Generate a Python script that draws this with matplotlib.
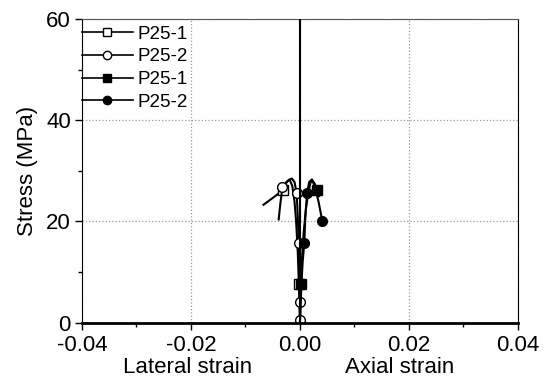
import numpy as np
import matplotlib.pyplot as plt
from matplotlib.lines import Line2D

plt.rcParams['font.family'] = ['Liberation Sans', 'DejaVu Sans']

labels = ["P25-1", "P25-2", "P25-1", "P25-2"]

# lateral strain (negative) vs stress
lat1_strain = [0, -0.0001, -0.0002, -0.0004, -0.0007, -0.0010, -0.0014, -0.0019, -0.0025, -0.0031, -0.0048, -0.0067]
lat1_stress = [0, 4, 7.7, 14, 20, 24, 27, 28.3, 27.8, 26.2, 24.8, 23.3]
lat1_marks = [2, 9]

lat2_strain = [0, 0, -0.0001, -0.0002, -0.0004, -0.0006, -0.0010, -0.0015, -0.0022, -0.0032, -0.0036, -0.0039]
lat2_stress = [0.5, 4, 10, 15.8, 21, 25.6, 27.8, 28.5, 28, 26.8, 23.5, 20.4]
lat2_marks = [0, 1, 3, 5, 9]

# axial strain vs stress
ax1_strain = [0, 0.0001, 0.0002, 0.0004, 0.0007, 0.0011, 0.0015, 0.0019, 0.0022, 0.0027, 0.0032, 0.0035]
ax1_stress = [0, 4, 7.7, 13, 18, 22.5, 25.5, 27.5, 28.2, 27.5, 26.2, 25]
ax1_marks = [2, 10]

ax2_strain = [0, 0.0001, 0.0003, 0.0005, 0.0008, 0.0010, 0.0013, 0.0017, 0.0022, 0.0027, 0.0034, 0.0041]
ax2_stress = [0, 3, 8, 12, 15.8, 21, 25.6, 27.8, 28.3, 27, 24, 20.1]
ax2_marks = [4, 6, 11]

fig = plt.figure(figsize=(5.44, 3.83), dpi=100)
ax = fig.add_axes([0.1507, 0.1574, 0.8013, 0.7930])

ms = 7
series = [
    (lat1_strain, lat1_stress, lat1_marks, 's', 'white'),
    (lat2_strain, lat2_stress, lat2_marks, 'o', 'white'),
    (ax1_strain, ax1_stress, ax1_marks, 's', 'k'),
    (ax2_strain, ax2_stress, ax2_marks, 'o', 'k'),
]
handles = []
for (xs, ys, marks, mk, fc), lab in zip(series, labels):
    ax.plot(xs, ys, '-' + mk, color='k', lw=1.5, ms=ms, mfc=fc, mec='k', markevery=marks)
    handles.append(Line2D([], [], color='k', lw=1.2, marker=mk, ms=6, mfc=fc, mec='k', label=lab))

ax.axvline(0, color='k', lw=1.5, zorder=3)

ax.set_xlim(-0.04, 0.04)
ax.set_ylim(0, 60)
ax.set_xticks([-0.04, -0.02, 0.0, 0.02, 0.04])
ax.set_xticklabels(["-0.04", "-0.02", "0.00", "0.02", "0.04"])
ax.set_xticks([-0.03, -0.01, 0.01, 0.03], minor=True)
ax.set_yticks([0, 20, 40, 60])
ax.set_yticks([10, 30, 50], minor=True)
ax.tick_params(which='both', direction='out', labelsize=16, width=1)
ax.tick_params(which='major', length=5)
ax.tick_params(which='minor', length=3)
ax.tick_params(axis='x', pad=4)
ax.tick_params(axis='y', pad=3)

ax.grid(True, which='major', color='#999999', ls=':', lw=0.9)
ax.spines['bottom'].set_linewidth(2)
ax.spines['top'].set_color('#555555')

ax.set_ylabel("Stress (MPa)", fontsize=16, labelpad=6)
ax.text(0.243, -0.113, "Lateral strain", transform=ax.transAxes, ha='center', va='top', fontsize=16)
ax.text(0.729, -0.113, "Axial strain", transform=ax.transAxes, ha='center', va='top', fontsize=16)

ax.legend(handles=handles, loc='upper left', bbox_to_anchor=(-0.015, 1.0), frameon=False,
          fontsize=13.5, handlelength=2.7, numpoints=1, borderaxespad=0.0,
          borderpad=0.35, labelspacing=0.3, handletextpad=0.25)

fig.savefig("out.png", dpi=100)
